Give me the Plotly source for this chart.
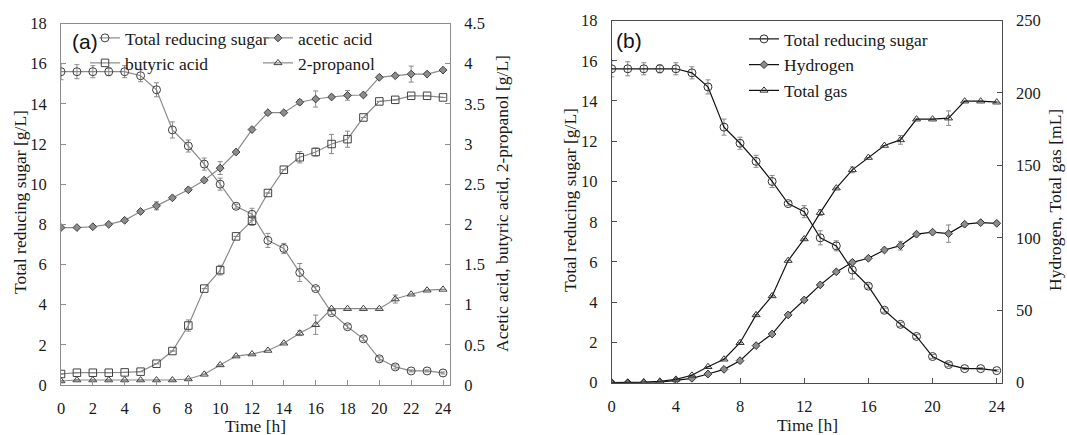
import plotly.graph_objects as go

time_h = list(range(25))

sugar = [15.6, 15.6, 15.6, 15.6, 15.6, 15.4, 14.7, 12.7, 11.9, 11.0, 10.0, 8.9, 8.5,
         7.2, 6.8, 5.6, 4.8, 3.6, 2.9, 2.3, 1.3, 0.9, 0.7, 0.7, 0.6]
sugar_err = [0.4, 0.35, 0.3, 0.2, 0.3, 0.3, 0.35, 0.4, 0.3, 0.3, 0.3, 0.1, 0.3,
             0.35, 0.25, 0.45, 0.1, 0.1, 0.1, 0.1, 0.1, 0.1, 0.05, 0.05, 0.05]

acetic = [1.96, 1.96, 1.97, 2.0, 2.05, 2.16, 2.23, 2.33, 2.43, 2.55, 2.70, 2.90, 3.18,
          3.39, 3.39, 3.52, 3.56, 3.585, 3.605, 3.61, 3.83, 3.85, 3.87, 3.87, 3.92]
acetic_err = [0, 0, 0, 0, 0.02, 0.02, 0.05, 0, 0, 0, 0.08, 0, 0,
              0, 0, 0.03, 0.1, 0.02, 0.06, 0, 0, 0, 0.1, 0, 0]

butyric = [0.137, 0.153, 0.153, 0.153, 0.157, 0.166, 0.265, 0.423, 0.74, 1.20, 1.43, 1.85, 2.045,
           2.39, 2.68, 2.835, 2.90, 3.0, 3.06, 3.33, 3.53, 3.55, 3.60, 3.60, 3.58]
butyric_err = [0, 0, 0, 0, 0, 0, 0, 0, 0.07, 0, 0.06, 0, 0.06,
               0, 0, 0.07, 0.05, 0.12, 0.1, 0, 0, 0, 0, 0, 0]

propanol = [0.05, 0.062, 0.062, 0.062, 0.062, 0.062, 0.062, 0.062, 0.075, 0.133, 0.25, 0.36, 0.385,
            0.43, 0.52, 0.645, 0.75, 0.95, 0.95, 0.95, 0.95, 1.07, 1.13, 1.18, 1.19]
propanol_err = [0, 0, 0, 0, 0, 0, 0, 0, 0, 0, 0, 0, 0,
                0, 0, 0.03, 0.12, 0, 0, 0, 0, 0.05, 0, 0, 0]

hydrogen = [0, 0, 0, 0.3, 1.6, 3.0, 6.0, 9.2, 15.2, 25.6, 33.6, 46.8, 57.1,
            67.5, 76.5, 83.1, 85.9, 91.6, 94.6, 102.5, 103.9, 102.9, 109.4, 110.5, 110.0]
hydrogen_err = [0, 0, 0, 0, 0, 0, 0, 0, 0, 0, 0, 0, 0,
                0, 0, 0, 0, 0, 3, 0, 0, 6, 0, 0, 0]

total_gas = [0, 0, 0.5, 1.0, 2.3, 5.1, 11.0, 16.2, 27.6, 46.8, 59.9, 84.3, 99.2,
             117.4, 134.3, 146.9, 155.4, 163.7, 167.6, 181.9, 181.9, 182.6, 194.3, 194.3, 193.6]
total_gas_err = [0, 0, 0, 0, 0, 0, 0, 0, 0, 0, 0, 0, 0,
                 2, 0, 2, 0, 0, 3, 0, 0, 5, 0, 0, 0]

W, H = 1067, 435
SERIF = "Liberation Serif, Times New Roman, serif"
SANS = "Liberation Sans, Arial, sans-serif"
FS_TICK = 16.5
FS = 17.5

GRAY_LINE = "#8a8a8a"
MK_EDGE = "#404040"
ERR_COL = "#8a8a8a"


def px_x(p):
    return p / W


def px_y(p):
    return 1 - p / H


fig = go.Figure()


def add(x, y, err, name, symbol, size, xa, ya, legend, line_col, fill, edge, group=None):
    fig.add_trace(go.Scatter(
        x=x, y=y, name=name, mode="lines+markers",
        xaxis=xa, yaxis=ya, legend=legend,
        legendgroup=group if group else name,
        line=dict(color=line_col, width=1.2),
        marker=dict(symbol=symbol, size=size, color=fill,
                    line=dict(color=edge, width=1.0)),
        error_y=dict(type="data", array=err, visible=True, color=ERR_COL,
                     thickness=1, width=2.5),
    ))


CLEAR = "rgba(255,255,255,0)"

# Panel (a)
add(time_h, sugar, sugar_err, "Total reducing sugar", "circle", 8,
    "x", "y", "legend", GRAY_LINE, CLEAR, MK_EDGE)
add(time_h, acetic, acetic_err, "acetic acid", "diamond", 6,
    "x", "y2", "legend", GRAY_LINE, "#8c8c8c", MK_EDGE)
add(time_h, butyric, butyric_err, "butyric acid", "square", 7.5,
    "x", "y2", "legend2", GRAY_LINE, CLEAR, MK_EDGE)
add(time_h, propanol, propanol_err, "2-propanol", "triangle-up", 7,
    "x", "y2", "legend2", GRAY_LINE, CLEAR, MK_EDGE)

# Panel (b)
add(time_h, sugar, sugar_err, "Total reducing sugar", "circle", 8,
    "x2", "y3", "legend3", "#111111", CLEAR, "#333333", group="b1")
add(time_h, hydrogen, hydrogen_err, "Hydrogen", "diamond", 6,
    "x2", "y4", "legend3", "#111111", "#8c8c8c", "#333333", group="b2")
add(time_h, total_gas, total_gas_err, "Total gas", "triangle-up", 7,
    "x2", "y4", "legend3", "#111111", CLEAR, "#333333", group="b3")

tickfont = dict(family=SERIF, size=FS_TICK, color="#1a1a1a")

common_x = dict(ticks="inside", ticklen=5, tickwidth=1, showgrid=False, zeroline=False,
                showline=True, mirror=True, tickfont=tickfont, ticklabelstandoff=8,
                automargin=False)
common_y = dict(ticks="inside", ticklen=5, tickwidth=1, showgrid=False, zeroline=False,
                showline=True, tickfont=tickfont, ticklabelstandoff=10, automargin=False)

dom_xa = [px_x(61), px_x(450)]
dom_ya = [px_y(385), px_y(23.5)]
dom_xb = [px_x(611.7), px_x(1001.7)]
dom_yb = [px_y(382.7), px_y(20.5)]

legfont = dict(family=SERIF, size=FS, color="#1a1a1a")

fig.update_layout(
    width=W, height=H,
    margin=dict(l=0, r=0, t=0, b=0, autoexpand=False),
    paper_bgcolor="white", plot_bgcolor="white",
    font=dict(family=SERIF, size=FS, color="#1a1a1a"),
    xaxis=dict(domain=dom_xa, range=[0, 24.44], tick0=0, dtick=2, anchor="y",
               linecolor="#8c8c8c", tickcolor="#8c8c8c", **common_x),
    yaxis=dict(domain=dom_ya, range=[0, 18], tick0=0, dtick=2, anchor="x",
               linecolor="#8c8c8c", tickcolor="#8c8c8c", **common_y),
    yaxis2=dict(range=[0, 4.5], tick0=0, dtick=0.5, overlaying="y", side="right", anchor="x",
                linecolor="#8c8c8c", tickcolor="#8c8c8c", **common_y),
    xaxis2=dict(domain=dom_xb, range=[0, 24.31], tick0=0, dtick=4, anchor="y3",
                linecolor="#4d4d4d", tickcolor="#4d4d4d", **common_x),
    yaxis3=dict(domain=dom_yb, range=[0, 18], tick0=0, dtick=2, anchor="x2",
                linecolor="#4d4d4d", tickcolor="#4d4d4d", **common_y),
    yaxis4=dict(range=[0, 250], tick0=0, dtick=50, overlaying="y3", side="right", anchor="x2",
                linecolor="#4d4d4d", tickcolor="#4d4d4d", **common_y),
    legend=dict(orientation="h", x=px_x(85), y=px_y(38), xanchor="left", yanchor="middle",
                entrywidth=128, font=legfont, bgcolor="rgba(0,0,0,0)"),
    legend2=dict(orientation="h", x=px_x(85), y=px_y(63), xanchor="left", yanchor="middle",
                 entrywidth=128, font=legfont, bgcolor="rgba(0,0,0,0)"),
    legend3=dict(orientation="v", x=px_x(744), y=px_y(65), xanchor="left", yanchor="middle",
                 traceorder="grouped", tracegroupgap=0,
                 font=legfont, bgcolor="rgba(0,0,0,0)"),
    showlegend=True,
)

annos = [
    dict(text="(a)", x=px_x(70), y=px_y(41), xanchor="left", yanchor="middle",
         bgcolor="white", borderpad=1,
         font=dict(family=SANS, size=21, color="#111111")),
    dict(text="(b)", x=px_x(614), y=px_y(40), xanchor="left", yanchor="middle",
         font=dict(family=SANS, size=21, color="#111111")),
    dict(text="Time [h]", x=px_x(255.5), y=px_y(426), xanchor="center", yanchor="middle"),
    dict(text="Time [h]", x=px_x(807), y=px_y(425), xanchor="center", yanchor="middle"),
    dict(text="Total reducing sugar [g/L]", x=px_x(20), y=px_y(202), textangle=-90,
         xanchor="center", yanchor="middle"),
    dict(text="Acetic acid, butyric acid, 2-propanol [g/L]", x=px_x(502), y=px_y(204),
         textangle=-90, xanchor="center", yanchor="middle"),
    dict(text="Total reducing sugar [g/L]", x=px_x(570), y=px_y(200), textangle=-90,
         xanchor="center", yanchor="middle"),
    dict(text="Hydrogen, Total gas [mL]", x=px_x(1055), y=px_y(200), textangle=-90,
         xanchor="center", yanchor="middle"),
]
for a in annos:
    a.update(xref="paper", yref="paper", showarrow=False)
    if "font" not in a:
        a["font"] = dict(family=SERIF, size=FS, color="#1a1a1a")
    fig.add_annotation(**a)

# remove the default 8px page margin so the 1067x435 figure fills the window exactly
fig.write_html("out.html",
               config={"displayModeBar": False},
               post_script="document.body.style.margin='0px';"
                           "document.documentElement.style.overflow='hidden';")
